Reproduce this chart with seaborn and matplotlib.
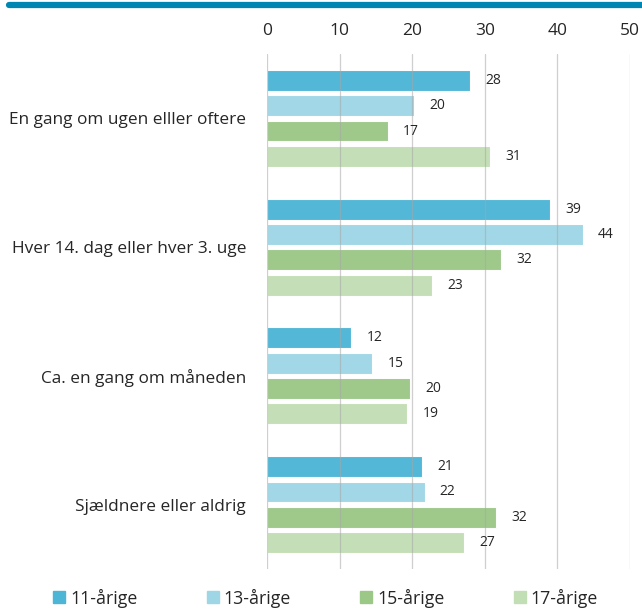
import matplotlib
matplotlib.use("Agg")
import matplotlib.pyplot as plt
from matplotlib.lines import Line2D
import seaborn as sns
import pandas as pd

categories = ["En gang om ugen elller oftere", "Hver 14. dag eller hver 3. uge",
              "Ca. en gang om måneden", "Sjældnere eller aldrig"]
groups = ["11-årige", "13-årige", "15-årige", "17-årige"]
values_11 = [28.0, 39.0, 11.6, 21.3]
values_13 = [20.3, 43.5, 14.5, 21.7]
values_15 = [16.6, 32.3, 19.7, 31.5]
values_17 = [30.7, 22.7, 19.3, 27.2]
labels_11 = ["28", "39", "12", "21"]
labels_13 = ["20", "44", "15", "22"]
labels_15 = ["17", "32", "20", "32"]
labels_17 = ["31", "23", "19", "27"]
colors = ["#4db5d6", "#9ed6e6", "#9bc887", "#c2deb5"]
xticks = [0, 10, 20, 30, 40, 50]

series = [values_11, values_13, values_15, values_17]
labels = [labels_11, labels_13, labels_15, labels_17]
rows = []
for g, vals in zip(groups, series):
    for c, v in zip(categories, vals):
        rows.append({"category": c, "group": g, "value": v})
df = pd.DataFrame(rows)

sns.set_style("white")
plt.rcParams["font.family"] = ["Open Sans", "DejaVu Sans"]

fig = plt.figure(figsize=(6.42, 6.10), dpi=100)
ax = fig.add_axes([267/642, 1 - 569/610, (630 - 267)/642, (569 - 54)/610])

sns.barplot(data=df, x="value", y="category", hue="group", orient="h",
            order=categories, hue_order=groups, palette=colors, saturation=1,
            width=0.785, gap=0.17, edgecolor="white", linewidth=0.8,
            alpha=0.97, legend=False, ax=ax)

for cont, lab in zip(ax.containers, labels):
    ax.bar_label(cont, labels=lab, padding=11, fontsize=10, color="#262626")

ax.set_xlim(0, 50)
ax.set_ylim(3.5, -0.5)
ax.set_xticks(xticks)
ax.set_xticklabels([str(t) for t in xticks])
ax.xaxis.tick_top()
ax.tick_params(axis="x", length=0, pad=11, labelsize=12.5, labelcolor="#262626")
ax.tick_params(axis="y", length=0, pad=15, labelsize=12.4, labelcolor="#262626")
ax.set_xlabel("")
ax.set_ylabel("")
ax.grid(axis="x", color="#a8a8a8", linewidth=0.9, alpha=0.55)
ax.set_axisbelow(False)
for s in ax.spines.values():
    s.set_visible(False)

# top rule
fig.add_artist(Line2D([9/642, 1], [1 - 5/610, 1 - 5/610], color="#0086b3",
                      linewidth=4.5, transform=fig.transFigure))

handles = [Line2D([0], [0], marker="s", linestyle="none", markersize=8,
                  markerfacecolor=c, markeredgecolor=c) for c in colors]
fig.legend(handles, groups, loc="center", bbox_to_anchor=(0.505, 1 - 598/610),
           ncol=4, frameon=False, fontsize=12.8, handletextpad=0.1,
           columnspacing=3.75, handlelength=1.0, labelcolor="#262626")

fig.savefig("out.png", dpi=100)
